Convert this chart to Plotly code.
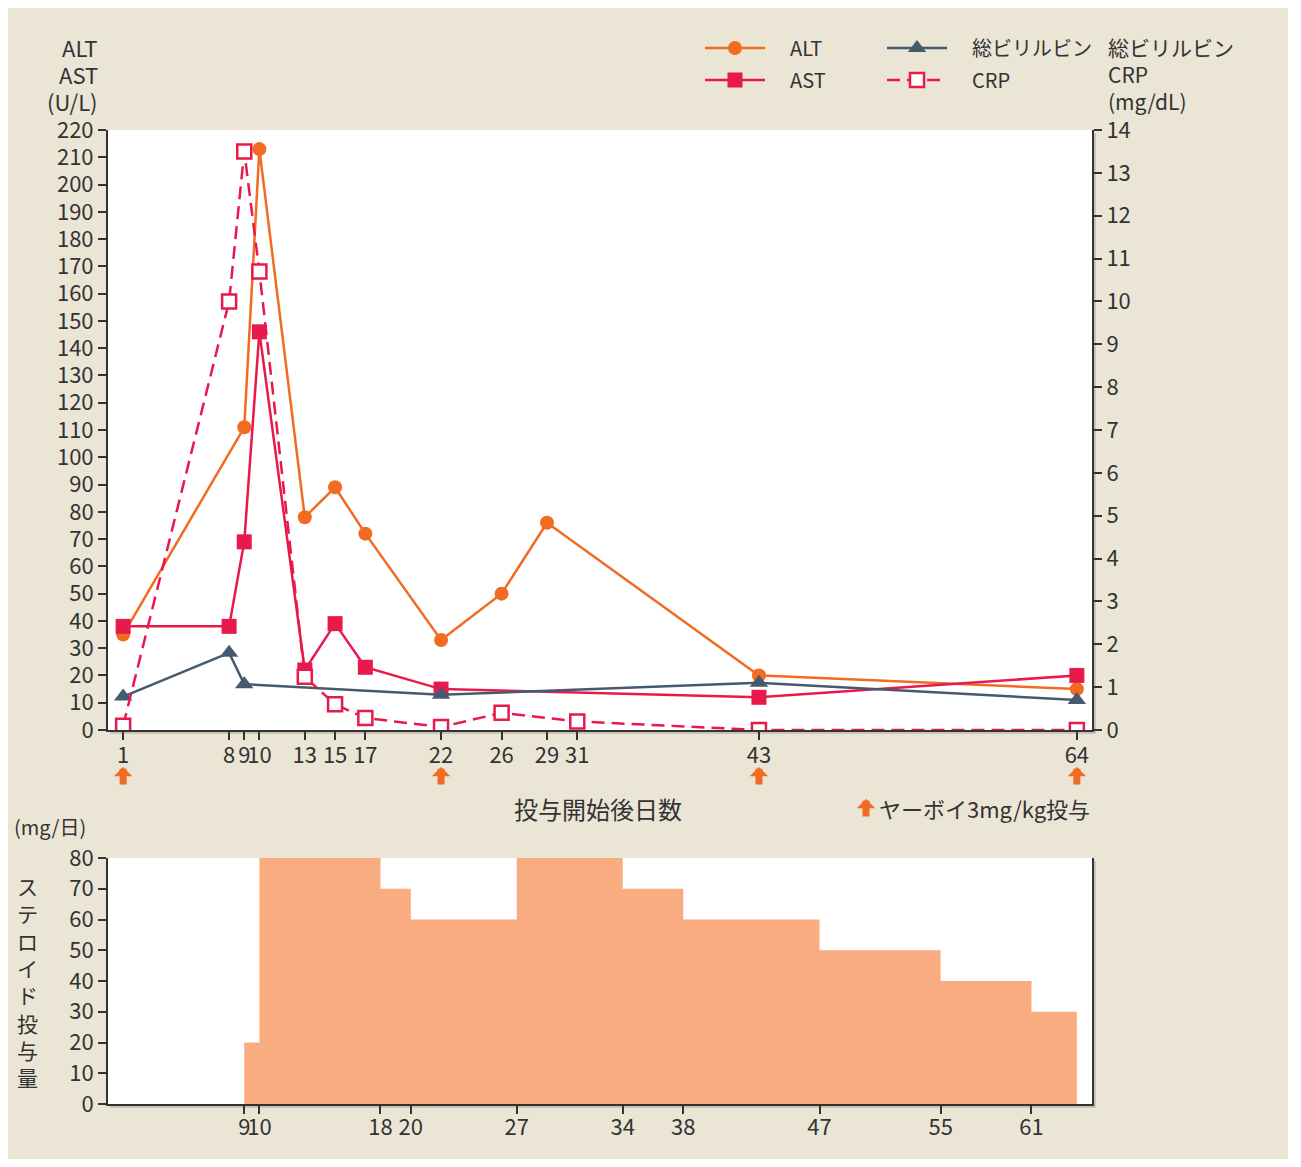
import plotly.graph_objects as go

# ---------------------------------------------------------------
# data (days since first dose)
# ---------------------------------------------------------------
alt_days = [1, 9, 10, 13, 15, 17, 22, 26, 29, 43, 64]
alt_vals = [35, 111, 213, 78, 89, 72, 33, 50, 76, 20, 15]

ast_days = [1, 8, 9, 10, 13, 15, 17, 22, 43, 64]
ast_vals = [38, 38, 69, 146, 22, 39, 23, 15, 12, 20]

bili_days = [1, 8, 9, 22, 43, 64]
bili_vals = [0.78, 1.8, 1.07, 0.82, 1.1, 0.7]

crp_days = [1, 8, 9, 10, 13, 15, 17, 22, 26, 31, 43, 64]
crp_vals = [0.1, 10.0, 13.5, 10.7, 1.24, 0.6, 0.28, 0.07, 0.4, 0.2, 0.0, 0.0]

steroid_days = [9, 10, 18, 20, 27, 34, 38, 47, 55, 61, 64]
steroid_dose = [20, 80, 70, 60, 80, 70, 60, 50, 40, 30, 30]

yervoy_days = [1, 22, 43, 64]

top_ticks = [1, 8, 9, 10, 13, 15, 17, 22, 26, 29, 31, 43, 64]
bottom_ticks = [9, 10, 18, 20, 27, 34, 38, 47, 55, 61]

# ---------------------------------------------------------------
# style
# ---------------------------------------------------------------
FONT = "Noto Sans CJK JP"
TXT = "#333333"
ORANGE = "#F26B22"
RED = "#E8194B"
SLATE = "#455A6F"
FILL = "#F8AC80"
BEIGE = "#EBE5D6"

W, H = 1280, 1151
OFF = 8  # body margin of the html page
EM = "\u2003"  # gap between legend symbol and its text


def fx(px):
    return (px - OFF) / W


def fy(py):
    return 1 - (py - OFF) / H


fig = go.Figure()

fig.add_trace(go.Scatter(
    x=alt_days, y=alt_vals, name=EM + "ALT", legend="legend",
    mode="lines+markers", line=dict(color=ORANGE, width=2.5),
    marker=dict(symbol="circle", size=14, color=ORANGE),
    xaxis="x", yaxis="y",
))
fig.add_trace(go.Scatter(
    x=ast_days, y=ast_vals, name=EM + "AST", legend="legend2",
    mode="lines+markers", line=dict(color=RED, width=2.5),
    marker=dict(symbol="square", size=15, color=RED),
    xaxis="x", yaxis="y",
))
fig.add_trace(go.Scatter(
    x=bili_days, y=bili_vals, name=EM + "総ビリルビン", legend="legend3",
    mode="lines+markers", line=dict(color=SLATE, width=2.5),
    marker=dict(symbol="triangle-up", size=16, color=SLATE),
    xaxis="x", yaxis="y2",
))
fig.add_trace(go.Scatter(
    x=crp_days, y=crp_vals, name=EM + "CRP", legend="legend4",
    mode="lines+markers", line=dict(color=RED, width=2.5, dash="13px,7px"),
    marker=dict(symbol="square", size=14, color="white",
                line=dict(color=RED, width=2.5)),
    xaxis="x", yaxis="y2",
))
fig.add_trace(go.Scatter(
    x=steroid_days, y=steroid_dose, mode="lines", line_shape="hv",
    line=dict(width=0, color=FILL), fill="tozeroy", fillcolor=FILL,
    showlegend=False, xaxis="x2", yaxis="y3",
))

tickfont = dict(family=FONT, size=22, color=TXT)
axis_common = dict(
    showgrid=False, zeroline=False, showline=True, linecolor=TXT,
    linewidth=2, ticks="outside", ticklen=8, tickwidth=1.5,
    tickcolor=TXT, tickfont=tickfont, automargin=False,
)
legend_common = dict(
    xanchor="left", yanchor="middle", bgcolor="rgba(0,0,0,0)",
    font=dict(family=FONT, size=20, color=TXT), itemwidth=60,
)

fig.update_layout(
    width=W, height=H,
    margin=dict(l=0, r=0, t=0, b=0, autoexpand=False),
    paper_bgcolor=BEIGE, plot_bgcolor="rgba(0,0,0,0)",
    font=dict(family=FONT, color=TXT),
    xaxis=dict(axis_common, domain=[fx(108), fx(1092)], range=[0, 65],
               tickvals=top_ticks, tickangle=0, anchor="y",
               ticklabelstandoff=-3),
    yaxis=dict(axis_common, domain=[fy(730), fy(130)], range=[0, 220],
               dtick=10, anchor="x"),
    yaxis2=dict(axis_common, range=[0, 14], dtick=1, overlaying="y",
                side="right", anchor="x"),
    xaxis2=dict(axis_common, domain=[fx(108), fx(1092)], range=[0, 65],
                tickvals=bottom_ticks, tickangle=0, anchor="y3",
                ticklabelstandoff=-5),
    yaxis3=dict(axis_common, domain=[fy(1104), fy(858)], range=[0, 80],
                dtick=10, anchor="x2", mirror=True),
    legend=dict(legend_common, x=fx(700), y=fy(48)),
    legend2=dict(legend_common, x=fx(700), y=fy(80)),
    legend3=dict(legend_common, x=fx(882), y=fy(48)),
    legend4=dict(legend_common, x=fx(882), y=fy(80)),
)

# white plot areas with a soft drop shadow
for top, bottom in [(130, 730), (858, 1104)]:
    fig.add_shape(type="rect", xref="paper", yref="paper", layer="below",
                  x0=fx(110), x1=fx(1096), y0=fy(bottom + 4), y1=fy(top + 3),
                  fillcolor="rgba(90,80,60,0.22)", line_width=0)
    fig.add_shape(type="rect", xref="paper", yref="paper", layer="below",
                  x0=fx(108), x1=fx(1092), y0=fy(bottom), y1=fy(top),
                  fillcolor="white", line_width=0)


def label(text, x, y, size=21, xanchor="center"):
    fig.add_annotation(text=text, x=fx(x), y=fy(y), xref="paper", yref="paper",
                       xanchor=xanchor, yanchor="middle", showarrow=False,
                       font=dict(family=FONT, size=size, color=TXT))


# axis titles
for i, t in enumerate(["ALT", "AST", "(U/L)"]):
    label(t, 100, 47 + 27 * i, size=22, xanchor="right")
for i, t in enumerate(["総ビリルビン", "CRP", "(mg/dL)"]):
    label(t, 1106, 47 + 27 * i, size=21, xanchor="left")

label("投与開始後日数", 598, 808, size=24)
label("ヤーボイ3mg/kg投与", 1092, 808, size=22, xanchor="right")
label("(mg/日)", 12, 827, size=20, xanchor="left")

fig.add_annotation(text="<br>".join("ステロイド投与量"), x=fx(27), y=fy(981),
                   xref="paper", yref="paper", showarrow=False,
                   xanchor="center", yanchor="middle",
                   font=dict(family=FONT, size=21, color=TXT))

# ipilimumab dosing arrows
arrow = dict(text="", showarrow=True, ax=0, ay=19, arrowhead=1,
             arrowwidth=7, arrowsize=0.44, arrowcolor=ORANGE)
for d in yervoy_days:
    fig.add_annotation(arrow, x=d, y=fy(767), xref="x", yref="paper")
fig.add_annotation(arrow, x=fx(866), y=fy(799), xref="paper", yref="paper")

fig.write_html("out.html")
